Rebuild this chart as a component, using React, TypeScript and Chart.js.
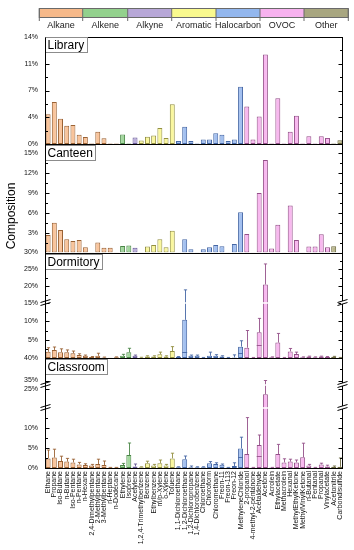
import React, { useEffect, useRef } from 'react';
import { Chart, registerables, LinearScale } from 'chart.js';

const CATEGORIES = [
  'Ethane', 'Propane', 'Iso-Butane', 'n-Butane', 'Iso-Pentane', 'n-Pentane', 'n-Hexane',
  '2,4-Dimethylpentane', '2-Methylpentane', '3-Methylpentane', 'n-Heptane', 'n-Dodecane',
  'Ethylene', 'Isoprene', 'Acetylene',
  '1,2,4-Trimethylbenzene', 'Benzene', 'Ethylbenzene', 'm/p-Xylene', 'o-Xylene', 'Toluene',
  '1,1-Dichloroethane', '1,2-Dichloroethane', '1,2-Dichloropropane', '1,4-Dichlorobenzene',
  'Chloroethane', 'Chloroform', 'Chloromethane', 'Freon-11', 'Freon-113', 'Freon-12', 'MethyleneChloride',
  '2-propanol', '4-methyl-2-pentanone', 'Acetaldehyde', 'Acetone', 'Acrolein', 'Ethylacetate',
  'Methacrolein', 'Hexanal', 'MethylEthylKetone', 'MethylVinylKetone', 'n-Butanal', 'Pentanal',
  'Propanal', 'Vinylacetate',
  'Acetonitrile', 'Carbondisulfide',
];

const GROUPS = ['Alkane', 'Alkene', 'Alkyne', 'Aromatic', 'Halocarbon', 'OVOC', 'Other'];
const CATEGORY_GROUP = [
  0, 0, 0, 0, 0, 0, 0, 0, 0, 0, 0, 0,
  1, 1,
  2,
  3, 3, 3, 3, 3, 3,
  4, 4, 4, 4, 4, 4, 4, 4, 4, 4, 4,
  5, 5, 5, 5, 5, 5, 5, 5, 5, 5, 5, 5, 5, 5,
  6, 6,
];

const PANELS = ['Library', 'Canteen', 'Dormitory', 'Classroom'];

const LIBRARY = [
  3.9, 5.5, 3.3, 2.4, 2.5, 1.2, 0.9, 0.05, 1.6, 0.75, 0.05, 0.05,
  1.25, 0.05,
  0.85,
  0.45, 0.95, 1.1, 2.1, 0.8, 5.2,
  0.4, 2.25, 0.4, 0.05, 0.6, 0.6, 1.4, 1.2, 0.4, 0.6, 7.5,
  4.9, 0.6, 3.6, 11.7, 0.05, 6.0, 0.05, 1.6, 3.7, 0.05, 1.0, 0.05, 1.0, 0.8,
  0.05, 0.5,
];

const CANTEEN = [
  2.65, 4.5, 3.4, 2.0, 1.75, 1.9, 0.8, 0.05, 1.5, 0.7, 0.7, 0.05,
  1.0, 1.05,
  0.7,
  0.05, 0.9, 1.15, 2.0, 0.8, 3.3,
  0.05, 2.0, 0.5, 0.05, 0.5, 0.8, 1.15, 0.95, 0.05, 1.3, 6.1,
  2.8, 0.05, 9.0, 14.0, 0.6, 4.2, 0.05, 7.1, 1.9, 0.05, 0.9, 0.9, 2.75, 0.8,
  0.95, 0.05,
];

const DORMITORY_MEAN = [
  1.7, 2.2, 1.6, 1.6, 1.3, 0.85, 0.6, 0.3, 0.6, 0.15, 0.1, 0.2,
  0.6, 1.55,
  0.6,
  0.1, 0.4, 0.4, 1.0, 0.4, 1.9,
  0.3, 10.4, 0.6, 0.6, 0.1, 0.6, 0.6, 0.4, 0.1, 0.15, 3.1,
  2.8, 0.1, 7.0, 20.5, 0.2, 4.2, 0.1, 1.8, 1.1, 0.2, 0.4, 0.2, 0.4, 0.3,
  0.35, 0.1,
];
const DORMITORY_ERR = [
  1.1, 0.8, 0.9, 0.6, 0.6, 0.3, 0.2, 0.1, 0.7, 0.1, 0, 0.1,
  0.4, 1.1,
  0.2,
  0.1, 0.2, 0.2, 0.6, 0.2, 1.2,
  0.1, 8.5, 0.2, 0.2, 0.05, 1.0, 0.3, 0.2, 0.05, 0.7, 1.6,
  4.7, 0.05, 3.8, 6.1, 0.1, 2.5, 0.05, 0.8, 0.5, 0.1, 0.1, 0.1, 0.1, 0.1,
  0.1, 0.05,
];
const DORMITORY_MEDIAN = [
  null, null, null, null, null, null, null, null, null, null, null, null,
  null, null,
  null,
  null, null, null, null, null, null,
  null, 1.7, null, null, null, null, null, null, null, null, 1.5,
  null, null, 3.5, null, null, null, null, null, null, null, null, null, null, null,
  null, null,
];

const CLASSROOM_MEAN = [
  2.4, 2.6, 1.75, 1.6, 1.4, 0.9, 0.75, 0.6, 1.0, 0.75, 0.1, 0.1,
  0.75, 3.25,
  0.4,
  0.2, 1.2, 0.6, 1.2, 0.6, 2.4,
  0.2, 2.2, 0.2, 0.2, 0.2, 1.2, 1.0, 0.8, 0.1, 0.5, 4.9,
  3.5, 0.1, 5.75, 23.6, 0.1, 3.5, 1.4, 1.6, 1.4, 2.7, 0.6, 0.1, 0.9, 0.4,
  0.3, 0.3,
];
const CLASSROOM_ERR = [
  2.1, 2.1, 1.2, 0.8, 0.8, 0.5, 0.3, 0.3, 1.2, 1.0, 0.05, 0.05,
  0.4, 3.0,
  0.6,
  0.1, 0.5, 0.3, 0.8, 0.3, 1.3,
  0.1, 0.8, 0.3, 0.1, 0.1, 0.4, 0.3, 0.2, 0.05, 0.8, 2.8,
  9.1, 0.05, 2.5, 11.4, 0.05, 2.4, 0.9, 0.6, 0.6, 3.5, 0.3, 0.05, 0.3, 0.3,
  0.2, 2.2,
];
const CLASSROOM_MEDIAN = [
  null, null, null, null, null, null, null, null, null, null, null, null,
  null, null,
  null,
  null, null, null, null, null, null,
  null, null, null, null, null, null, null, null, null, null, 2.8,
  null, null, 3.0, null, null, null, null, null, null, null, null, null, null, null,
  null, null,
];

// tick values (percent)
const LIB_TICKS = [0, 3.5, 7, 10.5, 14];
const LIB_MINOR = [1.75, 5.25, 8.75, 12.25];
const CAN_TICKS = [3, 6, 9, 12, 15];
const CAN_MINOR = [1.5, 4.5, 7.5, 10.5, 13.5];
const DORM_TICKS = [5, 10, 15, 20, 25, 30];
const DORM_MINOR = [2.5, 7.5, 12.5, 17.5, 22.5, 27.5];
const CLASS_TICKS = [0, 5, 10, 25, 35, 40];
const CLASS_MINOR = [2.5, 7.5, 12.5, 37.5];

// broken-axis segments (value ranges and relative heights)
type Seg = { min: number; max: number; weight: number };
const SEGMENTS: Record<string, Seg[]> = {
  yDorm: [{ min: 0, max: 15, weight: 55 }, { min: 15, max: 30, weight: 50.5 }],
  yClass: [{ min: 0, max: 15, weight: 60 }, { min: 20, max: 26, weight: 23 }, { min: 34, max: 40, weight: 27 }],
};

const FONT = '"Liberation Sans", Arial, sans-serif';
const GROUP_FILL = ['#F9C49B', '#A3D89E', '#BDB0DD', '#FAF79E', '#A3C0F0', '#F8B8EF', '#BAB78C'];
const GROUP_EDGE = ['#9A6234', '#4A8646', '#675996', '#939042', '#4567A5', '#945089', '#6C693E'];
const BAND_FILL = ['#F6B98A', '#93D18D', '#B7A7D7', '#F9F98E', '#93B7EE', '#F7B2EF', '#A8A680'];
const HEADER_X = [39.3, 82.7, 127.7, 171.7, 216, 260, 304, 348.3];

class BrokenLinearScale extends LinearScale {
  static id = 'brokenLinear';
  static defaults = {};
  segs(): Seg[] {
    return SEGMENTS[(this as any).id] || [];
  }
  getPixelForValue(value: number) {
    const segs = this.segs();
    if (!segs.length) return super.getPixelForValue(value);
    const total = segs.reduce((s, g) => s + g.weight, 0);
    let acc = 0;
    for (let i = 0; i < segs.length; i++) {
      const g = segs[i];
      if (value <= g.max || i === segs.length - 1) {
        const t = Math.max(0, Math.min(1, (value - g.min) / (g.max - g.min)));
        return (this as any).getPixelForDecimal((acc + t * g.weight) / total);
      }
      acc += g.weight;
    }
    return (this as any).getPixelForDecimal(1);
  }
  getValueForPixel(pixel: number) {
    const segs = this.segs();
    if (!segs.length) return super.getValueForPixel(pixel);
    const total = segs.reduce((s, g) => s + g.weight, 0);
    const d = (this as any).getDecimalForPixel(pixel) * total;
    let acc = 0;
    for (let i = 0; i < segs.length; i++) {
      const g = segs[i];
      if (d <= acc + g.weight || i === segs.length - 1) {
        return g.min + ((d - acc) / g.weight) * (g.max - g.min);
      }
      acc += g.weight;
    }
    return segs[segs.length - 1].max;
  }
}

Chart.register(...registerables, BrokenLinearScale as any);

const PANEL_AXES = ['yLib', 'yCan', 'yDorm', 'yClass'];
const MAJOR_TICKS = [LIB_TICKS, CAN_TICKS, DORM_TICKS, CLASS_TICKS];
const MINOR_TICKS = [LIB_MINOR, CAN_MINOR, DORM_MINOR, CLASS_MINOR];

function yAxis(ticks: number[], weight: number, min: number, max: number, type = 'linear') {
  return {
    type,
    position: 'left',
    stack: 'panels',
    stackWeight: weight,
    min,
    max,
    grid: { display: false, drawTicks: false },
    border: { display: false },
    ticks: {
      autoSkip: false,
      padding: 7,
      color: '#111',
      font: { size: 7, family: FONT },
      callback: (v: any) => Math.round(Number(v)) + '%',
    },
    afterBuildTicks: (s: any) => {
      s.ticks = ticks.map((v) => ({ value: v }));
    },
    afterFit: (s: any) => {
      s.width = 45;
    },
  };
}

const decorPlugin = {
  id: 'decor',
  afterDatasetsDraw(chart: any) {
    const ctx = chart.ctx;
    const a = chart.chartArea;
    ctx.save();
    const sets = [
      { ds: 2, mean: DORMITORY_MEAN, err: DORMITORY_ERR, med: DORMITORY_MEDIAN },
      { ds: 3, mean: CLASSROOM_MEAN, err: CLASSROOM_ERR, med: CLASSROOM_MEDIAN },
    ];
    sets.forEach(({ ds, mean, err, med }) => {
      const meta = chart.getDatasetMeta(ds);
      const scale = chart.scales[meta.yAxisID];
      meta.data.forEach((el: any, i: number) => {
        const color = GROUP_EDGE[CATEGORY_GROUP[i]];
        ctx.strokeStyle = color;
        ctx.lineWidth = 0.9;
        const x = Math.round(el.x) + 0.5;
        if (err[i] > 0.02) {
          const yTop = scale.getPixelForValue(mean[i] + err[i]);
          ctx.beginPath();
          ctx.moveTo(x, el.y);
          ctx.lineTo(x, yTop);
          ctx.moveTo(x - 1.6, yTop);
          ctx.lineTo(x + 1.6, yTop);
          ctx.stroke();
        }
        const m = med[i];
        if (m != null) {
          const ym = Math.round(scale.getPixelForValue(m)) + 0.5;
          ctx.beginPath();
          ctx.moveTo(el.x - el.width / 2, ym);
          ctx.lineTo(el.x + el.width / 2, ym);
          ctx.stroke();
        }
      });
    });
    // white break lines across the plot
    Object.keys(SEGMENTS).forEach((id) => {
      const s = chart.scales[id];
      const segs = SEGMENTS[id];
      for (let i = 0; i < segs.length - 1; i++) {
        const y = s.getPixelForValue(segs[i].max);
        ctx.strokeStyle = '#fff';
        ctx.lineWidth = 1.4;
        ctx.beginPath();
        ctx.moveTo(a.left + 1, y);
        ctx.lineTo(a.right - 1, y);
        ctx.stroke();
      }
    });
    ctx.restore();
  },
  afterDraw(chart: any) {
    const ctx = chart.ctx;
    const a = chart.chartArea;
    ctx.save();
    const L = Math.round(a.left) + 0.5;
    const R = Math.round(a.right) - 0.5;
    const line = (x1: number, y1: number, x2: number, y2: number) => {
      ctx.beginPath();
      ctx.moveTo(x1, y1);
      ctx.lineTo(x2, y2);
      ctx.stroke();
    };
    ctx.strokeStyle = '#000';
    ctx.lineWidth = 1;
    PANEL_AXES.forEach((id, p) => {
      const s = chart.scales[id];
      const top = Math.round(s.top) + 0.5;
      const bot = Math.round(s.bottom) + 0.5;
      ctx.strokeRect(L, top, R - L, bot - top);
      const tick = (v: number, len: number) => {
        const y = Math.round(s.getPixelForValue(v)) + 0.5;
        line(L, y, L + len, y);
        line(R, y, R - len, y);
      };
      MAJOR_TICKS[p].forEach((v) => tick(v, 4));
      MINOR_TICKS[p].forEach((v) => tick(v, 2.5));
    });
    // axis break marks
    const brk = (x: number, y: number) => {
      ctx.fillStyle = '#fff';
      ctx.fillRect(x - 1.5, y - 1.5, 3, 3);
      ctx.strokeStyle = '#000';
      ctx.lineWidth = 1;
      line(x - 5, y, x + 5, y - 3);
      line(x - 5, y + 3, x + 5, y);
    };
    Object.keys(SEGMENTS).forEach((id) => {
      const s = chart.scales[id];
      const segs = SEGMENTS[id];
      for (let i = 0; i < segs.length - 1; i++) {
        const y = s.getPixelForValue(segs[i].max) - 0.5;
        brk(L, y);
        brk(R, y);
      }
    });
    // panel name boxes
    ctx.font = '12px ' + FONT;
    ctx.textBaseline = 'middle';
    ctx.textAlign = 'left';
    PANEL_AXES.forEach((id, p) => {
      const s = chart.scales[id];
      const w = ctx.measureText(PANELS[p]).width + 5;
      const top = Math.round(s.top) + 0.5 + (p === 0 ? 0 : 1);
      ctx.fillStyle = '#fff';
      ctx.fillRect(L, top, w, 15);
      ctx.strokeStyle = '#8c8c8c';
      ctx.lineWidth = 1;
      ctx.strokeRect(L, top, Math.round(w), 15);
      ctx.fillStyle = '#000';
      ctx.fillText(PANELS[p], L + 2, top + 8);
    });
    // left axis re-stroke for crisp frame
    ctx.strokeStyle = '#000';
    line(L, Math.round(a.top) + 0.5, L, Math.round(a.bottom) + 0.5);
    // header band
    ctx.lineWidth = 1;
    for (let g = 0; g < GROUPS.length; g++) {
      const x0 = HEADER_X[g];
      const x1 = HEADER_X[g + 1];
      ctx.fillStyle = BAND_FILL[g];
      ctx.fillRect(x0, 8.5, x1 - x0, 9);
    }
    ctx.strokeStyle = '#6a6a6a';
    ctx.strokeRect(HEADER_X[0], 8.5, HEADER_X[HEADER_X.length - 1] - HEADER_X[0], 9);
    HEADER_X.forEach((x) => {
      line(x, 8.5, x, 21);
    });
    ctx.fillStyle = '#222';
    ctx.font = '9px ' + FONT;
    ctx.textAlign = 'center';
    for (let g = 0; g < GROUPS.length; g++) {
      ctx.fillText(GROUPS[g], (HEADER_X[g] + HEADER_X[g + 1]) / 2, 25.5);
    }
    // y title
    ctx.save();
    ctx.translate(12, 216);
    ctx.rotate(-Math.PI / 2);
    ctx.font = '12px ' + FONT;
    ctx.fillStyle = '#000';
    ctx.textAlign = 'center';
    ctx.textBaseline = 'middle';
    ctx.fillText('Composition', 0, 0);
    ctx.restore();
    ctx.restore();
  },
};

export default function App() {
  const ref = useRef<HTMLCanvasElement>(null);
  useEffect(() => {
    const fills = CATEGORY_GROUP.map((g) => GROUP_FILL[g]);
    const edges = CATEGORY_GROUP.map((g) => GROUP_EDGE[g]);
    const barStyle = {
      backgroundColor: fills,
      borderColor: edges,
      borderWidth: 1,
      borderSkipped: false,
      grouped: false,
      barPercentage: 0.8,
      categoryPercentage: 1,
    };
    const chart = new Chart(ref.current as HTMLCanvasElement, {
      type: 'bar',
      data: {
        labels: CATEGORIES,
        datasets: [
          { label: PANELS[0], data: LIBRARY, yAxisID: 'yLib', ...barStyle } as any,
          { label: PANELS[1], data: CANTEEN, yAxisID: 'yCan', ...barStyle } as any,
          { label: PANELS[2], data: DORMITORY_MEAN, yAxisID: 'yDorm', ...barStyle } as any,
          { label: PANELS[3], data: CLASSROOM_MEAN, yAxisID: 'yClass', ...barStyle } as any,
        ],
      },
      options: {
        animation: false,
        responsive: true,
        maintainAspectRatio: false,
        events: [],
        layout: { padding: { top: 37, right: 11, left: 0, bottom: 0 } },
        plugins: { legend: { display: false }, tooltip: { enabled: false }, title: { display: false } },
        scales: {
          x: {
            type: 'category',
            grid: { display: false, drawTicks: false },
            border: { display: false },
            ticks: {
              autoSkip: false,
              minRotation: 90,
              maxRotation: 90,
              padding: 3,
              color: '#111',
              font: { size: 7, family: FONT },
            },
            afterFit: (s: any) => {
              s.height = 82;
            },
          },
          yClass: yAxis(CLASS_TICKS, 110, 0, 40, 'brokenLinear'),
          yDorm: yAxis(DORM_TICKS, 105.5, 0, 30, 'brokenLinear'),
          yCan: yAxis(CAN_TICKS, 108.5, 0, 16.4),
          yLib: yAxis(LIB_TICKS, 107, 0, 14),
        } as any,
      },
      plugins: [decorPlugin],
    } as any);
    return () => chart.destroy();
  }, []);
  return (
    <div style={{ position: 'absolute', left: 0, top: 0, width: 354, height: 550, background: '#fff' }}>
      <canvas ref={ref} />
    </div>
  );
}
